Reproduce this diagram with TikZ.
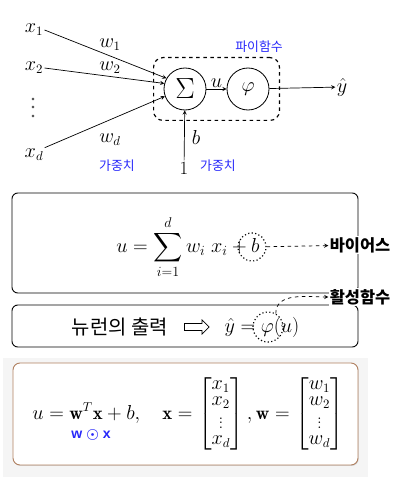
\documentclass[tikz,border=0pt]{standalone}
\usepackage{amsmath}
\usepackage{fontspec}
\newfontfamily\kr{Noto Sans CJK KR}
\newfontfamily\arial{Liberation Sans}
\usetikzlibrary{arrows.meta,positioning,calc,fit,shapes.arrows,shadows}
\definecolor{kblue}{RGB}{40,40,250}
\definecolor{boxbrown}{RGB}{176,128,96}

\begin{document}
\begin{tikzpicture}[
    x=0.03cm, y=-0.03cm,
    >=stealth,
    unit/.style={circle, draw, line width=0.7pt, minimum size=1.26cm, inner sep=0pt, font=\fontsize{18}{20}\selectfont},
    lbl/.style={inner sep=1pt, font=\fontsize{16}{18}\selectfont},
    wt/.style={->, line width=0.6pt},
    ktext/.style={inner sep=1pt, text=kblue, font=\kr\fontsize{11}{13}\selectfont},
    knote/.style={inner sep=1pt, fill=white, font=\kr\bfseries\fontsize{14}{16}\selectfont},
    panel/.style={draw, line width=0.8pt, rounded corners=5pt, minimum width=10.38cm},
    ringmark/.style={circle, draw, dotted, line width=1pt, inner sep=0pt},
    pointer/.style={->, dashed, line width=0.6pt}
]
    \useasboundingbox (0,0) rectangle (402,486);

    % entradas
    \node[lbl] (x1) at (34,30) {$x_1$};
    \node[lbl] (x2) at (34,68) {$x_2$};
    \node[lbl] (xd) at (34,155) {$x_d$};
    \foreach \y in {99,107,116}
        \draw[line width=0.35pt] (33,\y) circle[radius=0.35mm];

    % neuronio
    \node[unit, font=\fontsize{24}{26}\selectfont] (sum) at (185,89) {$\Sigma$};
    \node[unit] (phi) at (248,89) {$\varphi$};
    \node[draw, dashed, line width=1pt, rounded corners=8pt, inner sep=0.3cm, fit=(sum)(phi)] (act) {};
    \node[ktext] (actlbl) at (259,47) {파이함수};

    % pesos
    \draw[wt] (x1.east) -- (sum.150);
    \draw[wt] (x2.east) -- (sum.165);
    \draw[wt] (xd.north east) -- (sum.200);
    \node[lbl] (w1) at (110,45) {$w_1$};
    \node[lbl] (w2) at (110,68) {$w_2$};
    \node[lbl] (wd) at (110,140) {$w_d$};
    \node[ktext] (wlbl) at (117,166) {가중치};

    % bias
    \node[lbl] (one) at (184,168) {1};
    \draw[wt] (one) -- (sum);
    \node[lbl] (blbl) at (196,137) {$b$};
    \node[ktext] (blbl2) at (218,166) {가중치};

    % saida
    \draw[wt] (sum) -- (phi) node[midway, above, lbl] (ulbl) {$u$};
    \node[lbl] (yhat) at (342,87) {$\hat{y}$};
    \draw[wt] (phi) -- (yhat);

    % soma ponderada
    \node[panel, minimum height=3cm] (box1) at (185,243) {};
    \node[lbl, font=\fontsize{17}{20}\selectfont] (eq1) at (188,247) {$u = \displaystyle\sum_{i=1}^{d} w_i\; x_i + b$};
    \node[ringmark, minimum size=0.84cm] (bmark) at (252,247) {};
    \node[knote] (bias) at (360,245) {바이어스};
    \draw[pointer] (bmark) -- (bias);

    % saida do neuronio
    \node[panel, minimum height=1.26cm] (box2) at (185,326) {};
    \node[inner sep=1pt, font=\kr\fontsize{17}{19}\selectfont] (outlbl) at (120,327) {뉴런의 출력};
    \node[single arrow, draw, line width=0.6pt, minimum height=0.74cm, minimum width=0.42cm, single arrow head extend=0.1cm, inner sep=0.09cm] (imp) at (195,327) {};
    \node[lbl, font=\fontsize{18}{20}\selectfont] (eq2) at (262,327) {$\hat{y} = \varphi(u)$};
    \node[ringmark, minimum size=0.9cm] (phimark) at (268,327) {};
    \node[knote] (fact) at (360,297) {활성함수};
    \draw[pointer] (phimark.60) to[out=90, in=180] (fact.west);

    % forma vetorial
    \fill[black!4] (3,358) rectangle (368,477);
    \node[draw=boxbrown, line width=0.8pt, rounded corners=6pt, fill=white,
          drop shadow={opacity=0.25, shadow xshift=0.6pt, shadow yshift=-0.8pt},
          minimum width=10.35cm, minimum height=3.06cm] (box3) at (185.5,414) {};
    \node[lbl, font=\fontsize{16}{17}\selectfont] (eq3) at (188,414)
        {\renewcommand{\arraystretch}{0.8}$u = \mathbf{w}^T\mathbf{x} + b,\quad \mathbf{x} = \begin{bmatrix} x_1\\ x_2\\ \vdots\\ x_d \end{bmatrix}, \mathbf{w} = \begin{bmatrix} w_1\\ w_2\\ \vdots\\ w_d \end{bmatrix}$};
    \node[inner sep=1pt, text=kblue, font=\arial\bfseries\fontsize{12}{14}\selectfont] (had) at (91,435) {w $\boldsymbol{\odot}$ x};
\end{tikzpicture}
\end{document}
